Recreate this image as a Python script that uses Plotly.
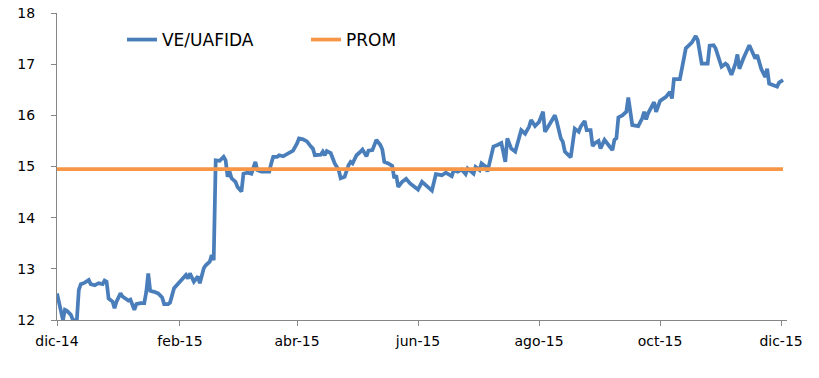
import pandas as pd
import plotly.graph_objects as go

start_date = "2014-12-01"
# trading-day offsets (days after start_date) and VE/UAFIDA multiple
day_offsets = [0, 2, 3, 4, 5, 7, 8, 10, 11, 12, 14, 16, 17, 19, 21, 23, 24, 25, 26, 28,
               29, 30, 32, 33, 35, 36, 37, 39, 40, 42, 44, 45, 46, 47, 49, 51, 53, 54, 56, 57,
               59, 62, 65, 66, 67, 69, 71, 72, 74, 75, 77, 78, 79, 80, 82, 84, 85, 86, 87, 88,
               90, 91, 93, 94, 96, 98, 99, 100, 101, 103, 106, 107, 108, 109, 111, 112, 114, 117, 119, 121,
               122, 124, 126, 128, 129, 130, 133, 134, 135, 136, 138, 140, 142, 143, 145, 147, 148, 149, 151, 153,
               154, 156, 157, 159, 160, 161, 163, 164, 165, 167, 169, 170, 171, 172, 174, 175, 176, 178, 180, 182,
               184, 186, 187, 189, 191, 194, 196, 199, 200, 202, 204, 206, 207, 210, 211, 213, 214, 216, 217, 219,
               220, 222, 224, 226, 227, 229, 231, 234, 236, 238, 239, 241, 243, 245, 246, 249, 251, 252, 254, 255,
               256, 259, 260, 261, 263, 264, 266, 267, 269, 270, 271, 273, 274, 276, 278, 280, 281, 282, 283, 285,
               287, 288, 290, 293, 295, 296, 297, 298, 301, 302, 304, 307, 309, 310, 311, 314, 317, 320, 322, 323,
               325, 328, 329, 331, 332, 335, 337, 338, 340, 342, 343, 344, 346, 349, 352, 353, 355, 357, 358, 359,
               363, 364, 366]
ve_uafida = [12.52, 12.20, 12.00, 12.20, 12.18, 12.10, 12.00, 12.00, 12.59, 12.70, 12.73, 12.78, 12.70, 12.68, 12.72, 12.70, 12.77, 12.75, 12.42, 12.36,
             12.23, 12.36, 12.52, 12.46, 12.40, 12.38, 12.40, 12.20, 12.31, 12.33, 12.33, 12.55, 12.91, 12.57, 12.55, 12.52, 12.44, 12.31, 12.31, 12.34,
             12.62, 12.75, 12.88, 12.81, 12.91, 12.75, 12.85, 12.72, 13.01, 13.07, 13.14, 13.27, 13.17, 15.12, 15.11, 15.19, 15.12, 14.80, 14.90, 14.77,
             14.70, 14.60, 14.51, 14.86, 14.88, 14.86, 14.96, 15.09, 14.93, 14.90, 14.90, 14.90, 15.06, 15.19, 15.19, 15.22, 15.20, 15.27, 15.31, 15.45,
             15.55, 15.53, 15.49, 15.39, 15.35, 15.22, 15.23, 15.29, 15.22, 15.30, 15.26, 15.06, 14.93, 14.77, 14.80, 15.03, 15.09, 15.06, 15.22, 15.29,
             15.33, 15.20, 15.31, 15.32, 15.44, 15.52, 15.42, 15.33, 15.09, 15.06, 15.01, 14.77, 14.83, 14.60, 14.70, 14.72, 14.76, 14.67, 14.62, 14.55,
             14.70, 14.64, 14.59, 14.53, 14.85, 14.83, 14.88, 14.81, 14.93, 14.90, 14.94, 14.85, 14.96, 14.86, 14.99, 14.93, 15.06, 15.00, 14.90, 15.25,
             15.39, 15.42, 15.46, 15.09, 15.55, 15.35, 15.29, 15.71, 15.64, 15.78, 15.91, 15.79, 15.87, 16.07, 15.68, 15.87, 16.00, 15.87, 15.55, 15.48,
             15.29, 15.18, 15.45, 15.74, 15.68, 15.78, 15.89, 15.71, 15.71, 15.40, 15.45, 15.50, 15.35, 15.52, 15.42, 15.32, 15.52, 15.55, 15.96, 16.00,
             16.07, 16.35, 15.81, 15.79, 15.94, 16.07, 15.92, 16.04, 16.26, 16.07, 16.28, 16.36, 16.46, 16.33, 16.71, 16.71, 17.31, 17.42, 17.55, 17.47,
             17.01, 17.01, 17.36, 17.37, 17.31, 16.95, 17.01, 16.98, 16.79, 17.01, 17.19, 16.91, 17.11, 17.37, 17.11, 17.18, 16.91, 16.75, 16.91, 16.62,
             16.56, 16.64, 16.69]
prom_value = 14.95

tick_dates = ["2014-12-01", "2015-02-01", "2015-04-01", "2015-06-01", "2015-08-01", "2015-10-01", "2015-12-01"]
tick_labels = ["dic-14", "feb-15", "abr-15", "jun-15", "ago-15", "oct-15", "dic-15"]

dates = pd.Timestamp(start_date) + pd.to_timedelta(day_offsets, unit="D")
prom = [prom_value] * len(dates)

fig = go.Figure()
fig.add_trace(go.Scatter(x=dates, y=ve_uafida, mode="lines", name="VE/UAFIDA",
                         line=dict(color="#4A7EBB", width=3.75)))
fig.add_trace(go.Scatter(x=dates, y=prom, mode="lines", name="PROM",
                         line=dict(color="#F79646", width=3.75)))

axis_color = "#868686"
fig.update_layout(
    width=819, height=378,
    margin=dict(l=57, r=32, t=13, b=58),
    paper_bgcolor="white", plot_bgcolor="white",
    font=dict(family="DejaVu Sans", size=14, color="#000000"),
    showlegend=True,
    legend=dict(orientation="h", x=0.089, y=0.912, xanchor="left", yanchor="middle",
                bgcolor="rgba(0,0,0,0)", font=dict(size=17),
                entrywidth=139, entrywidthmode="pixels"),
    xaxis=dict(range=["2014-12-01", "2015-12-04"], tickvals=tick_dates, ticktext=tick_labels,
               showgrid=False, zeroline=False, showline=True, linecolor=axis_color, linewidth=1,
               ticks="outside", ticklen=5, tickcolor=axis_color, automargin=False,
               ticklabelstandoff=3),
    yaxis=dict(range=[12, 18], dtick=1, showgrid=False, zeroline=False, showline=True,
               linecolor=axis_color, linewidth=1, ticks="outside", ticklen=5, tickcolor=axis_color,
               automargin=False, ticklabelstandoff=13),
)
fig.write_html("out.html", config={"displayModeBar": False},
               post_script="document.body.style.margin='0';")
